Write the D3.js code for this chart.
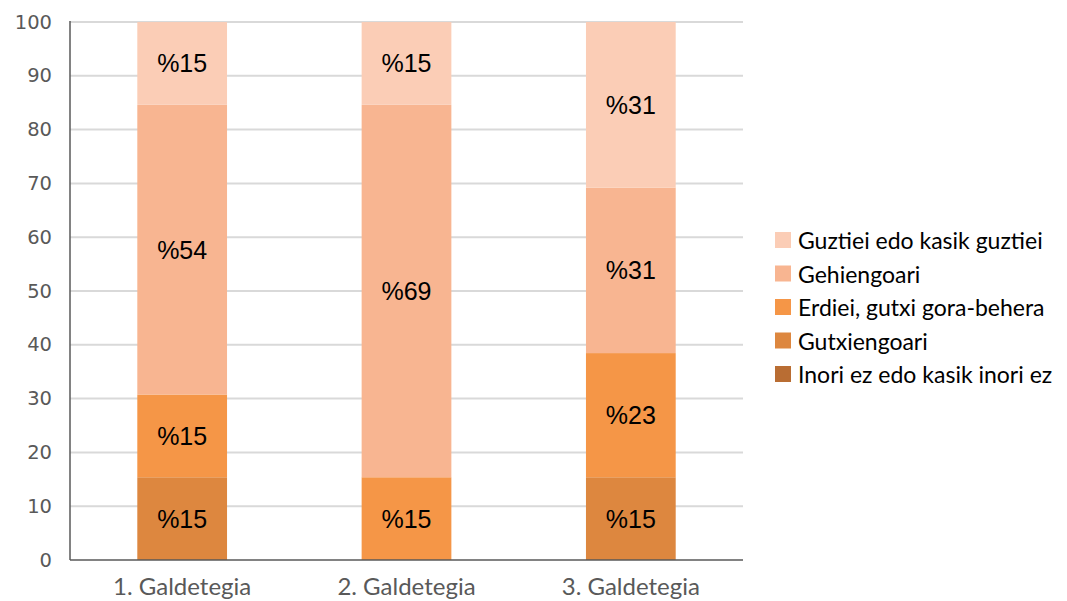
<!DOCTYPE html>
<html><head><meta charset="utf-8">
<script src="https://cdn.jsdelivr.net/npm/d3@7"></script>
<style>body{margin:0;background:#fff}svg{display:block}</style>
</head><body>
<svg id="c" width="1067" height="601"></svg>
<script>
const categories = ["1. Galdetegia", "2. Galdetegia", "3. Galdetegia"];
const seriesNames = ["Inori ez edo kasik inori ez", "Gutxiengoari", "Erdiei, gutxi gora-behera", "Gehiengoari", "Guztiei edo kasik guztiei"];
const inoriEz = [0, 0, 0];
const gutxiengoari = [15.38, 0, 15.38];
const erdiei = [15.38, 15.38, 23.08];
const gehiengoari = [53.85, 69.23, 30.77];
const guztiei = [15.38, 15.38, 30.77];
const seriesColors = ["#B96D33", "#DD873F", "#F59647", "#F8B591", "#FBCDB6"];
const yTicks = [0, 10, 20, 30, 40, 50, 60, 70, 80, 90, 100];

(function () {
const seriesVals = [inoriEz, gutxiengoari, erdiei, gehiengoari, guztiei];
const rows = categories.map((c, i) => {
  const r = {cat: c};
  seriesNames.forEach((s, j) => r[s] = seriesVals[j][i]);
  return r;
});
const stacked = d3.stack().keys(seriesNames)(rows);

const svg = d3.select("#c");
const mL = 70, mR = 743, mT = 22, mB = 560;
const x = d3.scaleBand().domain(categories).range([mL, mR]).paddingInner(0.6).paddingOuter(0.3);
const y = d3.scaleLinear().domain([0, 100]).range([mB, mT]);

// gridlines
svg.append("g").selectAll("line").data(yTicks.filter(t => t > 0)).join("line")
  .attr("x1", mL).attr("x2", mR)
  .attr("y1", d => y(d)).attr("y2", d => y(d))
  .attr("stroke", "#D9D9D9").attr("stroke-width", 2);

// bars
const color = d3.scaleOrdinal().domain(seriesNames).range(seriesColors);
const g = svg.append("g");
stacked.forEach(layer => {
  g.append("g").attr("fill", color(layer.key)).selectAll("rect").data(layer).join("rect")
    .attr("x", d => x(d.data.cat))
    .attr("width", x.bandwidth())
    .attr("y", d => y(d[1]))
    .attr("height", d => y(d[0]) - y(d[1]));
});
// labels
stacked.forEach(layer => {
  g.append("g").selectAll("text").data(layer.filter(d => d[1] - d[0] > 0)).join("text")
    .attr("x", d => x(d.data.cat) + x.bandwidth() / 2)
    .attr("y", d => (y(d[0]) + y(d[1])) / 2)
    .attr("text-anchor", "middle").attr("dominant-baseline", "central")
    .attr("font-family", "Liberation Sans Narrow, Arial Narrow, Liberation Sans, sans-serif").attr("font-size", 25)
    .attr("fill", "#000")
    .text(d => "%" + Math.round(d[1] - d[0]));
});

// axes
svg.append("line").attr("x1", mL).attr("x2", mL).attr("y1", mT - 1).attr("y2", mB)
  .attr("stroke", "#595959").attr("stroke-width", 1.5);
svg.append("line").attr("x1", mL).attr("x2", mR).attr("y1", mB).attr("y2", mB)
  .attr("stroke", "#595959").attr("stroke-width", 1.5);

svg.append("g").selectAll("text").data(yTicks).join("text")
  .attr("x", 52).attr("y", d => y(d)).attr("text-anchor", "end").attr("dominant-baseline", "central")
  .attr("font-family", "DejaVu Sans, Verdana, sans-serif").attr("font-size", 19.5).attr("fill", "#595959")
  .text(d => d);

svg.append("g").selectAll("text").data(categories).join("text")
  .attr("x", d => x(d) + x.bandwidth() / 2).attr("y", 595)
  .attr("text-anchor", "middle")
  .attr("font-family", "Lato, Open Sans, sans-serif").attr("font-size", 24).attr("fill", "#595959")
  .text(d => d);

// legend
const legendOrder = seriesNames.slice().reverse();
const lg = svg.append("g").selectAll("g").data(legendOrder).join("g")
  .attr("transform", (d, i) => `translate(775, ${240 + i * 33.5})`);
lg.append("rect").attr("x", 0).attr("y", -8).attr("width", 16).attr("height", 16).attr("fill", d => color(d));
lg.append("text").attr("x", 23).attr("y", 0).attr("dominant-baseline", "central")
  .attr("font-family", "Lato, Open Sans, sans-serif").attr("font-size", 23).attr("fill", "#000")
  .text(d => d);
})();
</script>
</body></html>
